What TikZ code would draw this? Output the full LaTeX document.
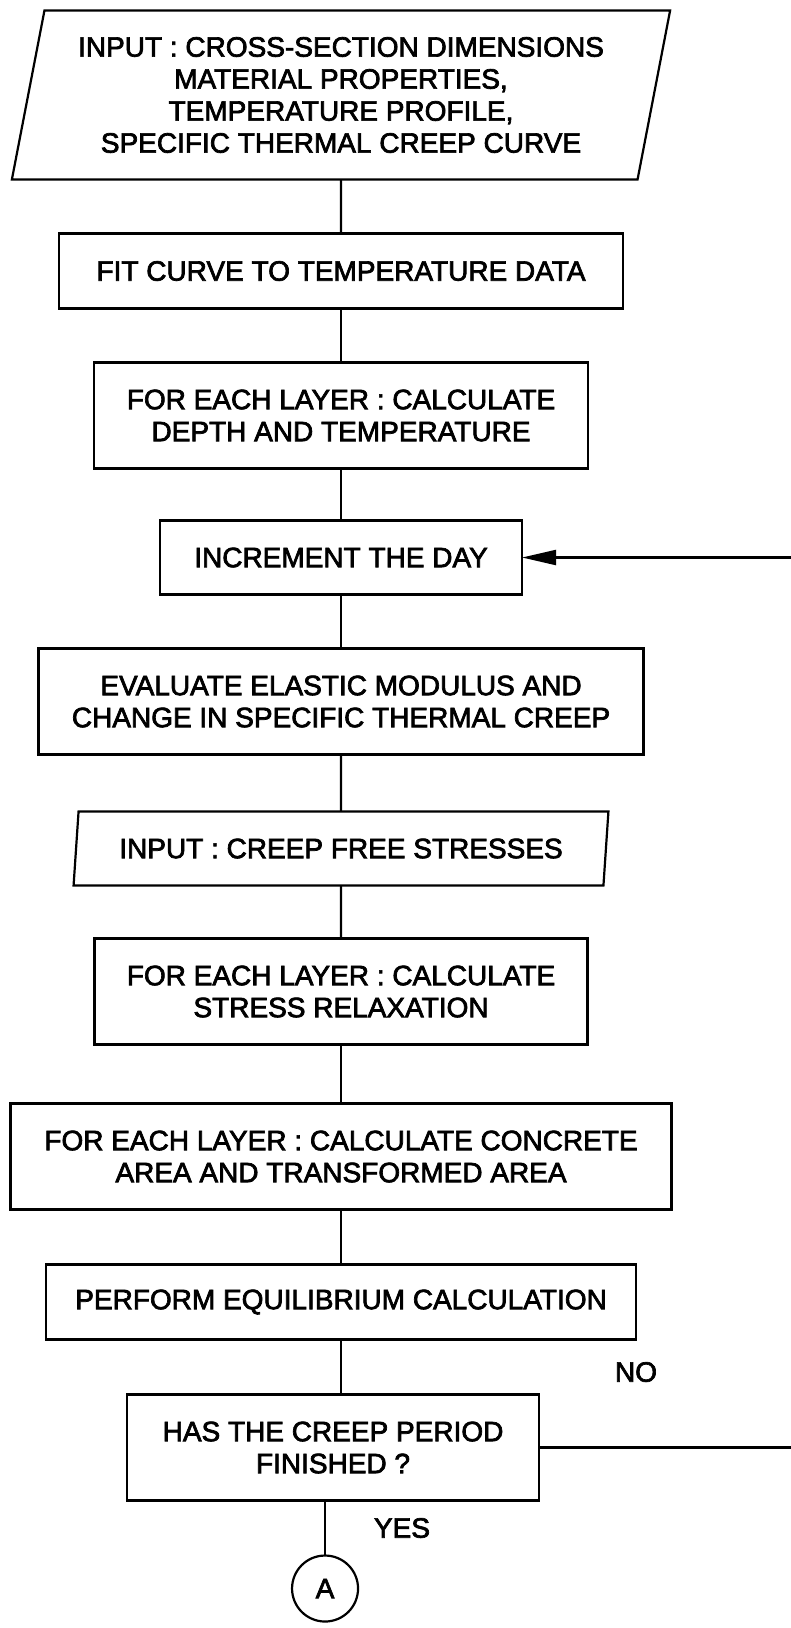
\documentclass[tikz,border=0pt]{standalone}
\usepackage{fontspec}
\newfontfamily\chartfont[FakeBold=2.5]{Liberation Sans}
\usetikzlibrary{arrows.meta, positioning, shapes.geometric}

\begin{document}
\begin{tikzpicture}[
  x=1pt, y=-1pt,
  node distance=54pt,
  box/.style={draw, line width=2.2pt, align=center, inner sep=0pt, outer sep=0pt,
              font=\chartfont\fontsize{28}{32}\selectfont, minimum height=75pt},
  tall/.style={minimum height=106pt},
  io/.style={box, trapezium, trapezium left angle=78, trapezium right angle=102,
             trapezium stretches=true},
  line/.style={line width=2.2pt},
  arr/.style={-{Triangle[length=34pt, width=15pt]}, line width=2.2pt},
  lbl/.style={font=\chartfont\fontsize{28}{32}\selectfont},
  conn/.style={draw, circle, line width=2.2pt, minimum size=66pt, inner sep=0pt, outer sep=0pt,
               font=\chartfont\fontsize{28}{32}\selectfont},
]
  \useasboundingbox (0,0) rectangle (791,1628);

  \node[io, trapezium left angle=76, trapezium right angle=104,
        minimum width=660pt, minimum height=169pt] (input) at (341,95)
        {INPUT : CROSS-SECTION DIMENSIONS\\MATERIAL PROPERTIES,\\TEMPERATURE PROFILE,\\SPECIFIC THERMAL CREEP CURVE};
  \node[box, below=of input, minimum width=564pt] (fit) {FIT CURVE TO TEMPERATURE DATA};
  \node[box, tall, below=of fit, minimum width=494pt] (depth)
        {FOR EACH LAYER : CALCULATE\\DEPTH AND TEMPERATURE};
  \node[box, below=52pt of depth, minimum width=362pt, minimum height=74pt] (inc) {INCREMENT THE DAY};
  \node[box, tall, below=of inc, minimum width=605pt] (eval)
        {EVALUATE ELASTIC MODULUS AND\\CHANGE IN SPECIFIC THERMAL CREEP};
  \node[io, below=57pt of eval, minimum width=535pt, minimum height=74pt] (creep)
        {INPUT : CREEP FREE STRESSES};
  \node[box, tall, below=53pt of creep, minimum width=493pt] (stress)
        {FOR EACH LAYER : CALCULATE\\STRESS RELAXATION};
  \node[box, tall, below=59pt of stress, minimum width=661pt] (concrete)
        {FOR EACH LAYER : CALCULATE CONCRETE\\AREA AND TRANSFORMED AREA};
  \node[box, below=55pt of concrete, minimum width=590pt] (perform) {PERFORM EQUILIBRIUM CALCULATION};
  \node[box, tall, below=55pt of perform, xshift=-8pt, minimum width=412pt] (decision)
        {HAS THE CREEP PERIOD\\FINISHED ?};
  \node[conn, below=55pt of decision, xshift=-8pt] (conA) {A};

  \node[lbl] (no)  at (636,1372) {NO};
  \node[lbl] (yes) at (402,1528) {YES};

  \coordinate (rim) at (791,0);

  \draw[line] (input) -- (fit);
  \draw[line] (fit) -- (depth);
  \draw[line] (depth) -- (inc);
  \draw[line] (inc) -- (eval);
  \draw[line] (eval) -- (creep);
  \draw[line] (creep) -- (stress);
  \draw[line] (stress) -- (concrete);
  \draw[line] (concrete) -- (perform);
  \draw[line] (perform) -- (perform |- decision.north);
  \draw[line] (decision.south -| conA) -- (conA);
  \draw[line] (decision.east) -- (decision.east -| rim);
  \draw[arr] (inc.east -| rim) -- (inc.east);
\end{tikzpicture}
\end{document}
